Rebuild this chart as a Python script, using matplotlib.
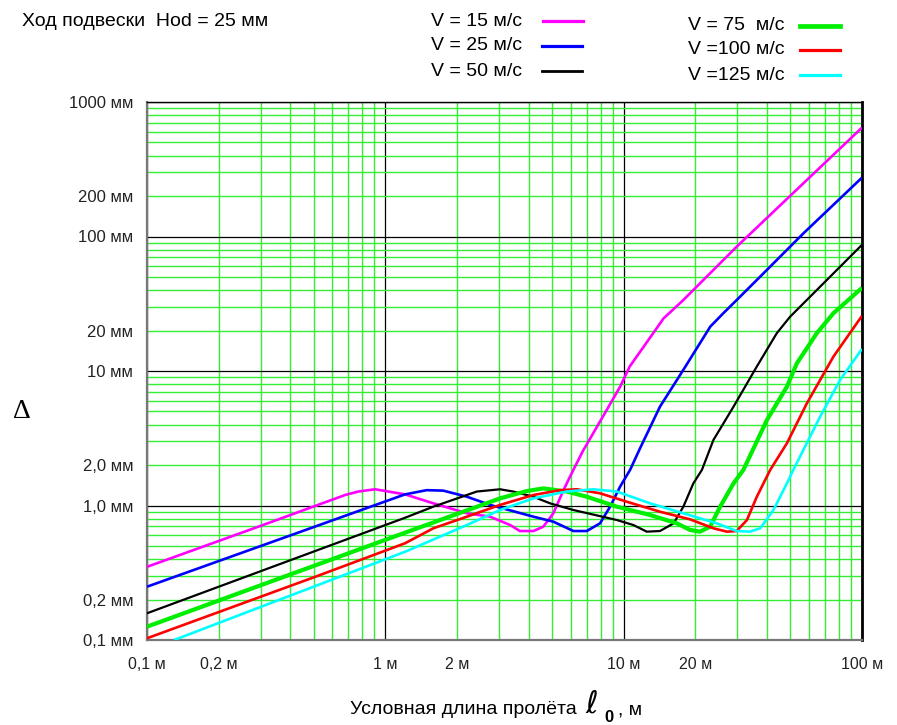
import matplotlib
matplotlib.use('Agg')
import matplotlib.pyplot as plt
from matplotlib.lines import Line2D
from matplotlib.ticker import LogLocator, FuncFormatter

plt.rcParams['font.family'] = ['Liberation Sans', 'DejaVu Sans']

# ---- data (span l0 in m, deflection in mm) ----
x_15 = [0.1, 0.3, 0.678, 0.77, 0.905, 1.21, 1.59, 2.2, 2.75, 3.34, 3.67, 4.18, 4.6, 5.07,
        5.59, 6.15, 6.75, 8.49, 9.66, 10.6, 13.3, 14.7, 17.8, 19.6, 21.6, 29.8, 100]
y_15 = [0.35, 0.706, 1.197, 1.27, 1.32, 1.21, 1.038, 0.875, 0.826, 0.716, 0.646, 0.646, 0.696, 0.875,
        1.30, 1.84, 2.55, 5.13, 7.64, 10.8, 19.1, 24.6, 33.7, 40.0, 47.5, 84.0, 645]

x_25 = [0.1, 1.21, 1.49, 1.75, 2.2, 2.75, 4.18, 5.07, 6.15, 7.0, 7.96, 8.77, 9.66, 10.64,
        11.7, 14.2, 17.8, 23.1, 26.2, 29.8, 36.2, 56.8, 100]
y_25 = [0.249, 1.21, 1.30, 1.29, 1.162, 1.01, 0.826, 0.758, 0.646, 0.646, 0.737, 0.98, 1.38, 1.84,
        2.65, 5.43, 10.2, 21.4, 26.9, 33.7, 47.5, 105.6, 274]

x_50 = [0.1, 1.21, 1.59, 2.42, 3.03, 3.44, 4.18, 4.91, 6.15, 9.36, 10.98, 12.5, 14.2, 16.2,
        17.8, 19.6, 21.3, 23.8, 28.9, 36.2, 43.9, 49.9, 60.6, 71.2, 100]
y_50 = [0.158, 0.811, 0.98, 1.27, 1.32, 1.27, 1.162, 1.038, 0.926, 0.780, 0.716, 0.639, 0.646, 0.737,
        0.98, 1.46, 1.84, 3.07, 5.43, 10.8, 19.1, 25.3, 35.7, 47.5, 86.7]

x_75 = [0.1, 1.21, 2.2, 3.03, 3.92, 4.6, 5.77, 7.0, 9.36, 12.9, 16.7, 19.0, 20.9, 23.05,
        25.4, 28.9, 31.8, 39.9, 48.4, 53.3, 64.6, 75.9, 100]
y_75 = [0.1256, 0.628, 0.92, 1.13, 1.28, 1.34, 1.27, 1.162, 0.98, 0.85, 0.737, 0.658, 0.639, 0.696,
        0.98, 1.46, 1.84, 4.32, 7.64, 11.4, 19.1, 26.9, 41.5]

x_100 = [0.1, 0.5, 1.21, 1.59, 2.2, 3.03, 4.18, 5.41, 6.36, 7.96, 10.3, 14.2, 19.0, 23.8,
         27.1, 29.8, 32.9, 36.2, 41.2, 48.4, 58.7, 75.9, 100]
y_100 = [0.103, 0.292, 0.524, 0.677, 0.826, 1.01, 1.197, 1.30, 1.32, 1.232, 1.067, 0.899, 0.789, 0.677,
         0.639, 0.646, 0.780, 1.162, 1.84, 2.90, 5.75, 12.8, 25.7]

x_125 = [0.13, 1.21, 2.2, 3.03, 4.18, 5.77, 7.46, 9.36, 12.9, 17.8, 24.6, 29.8, 33.9, 37.4,
         42.5, 48.4, 51.5, 66.7, 80.9, 100]
y_125 = [0.1, 0.453, 0.716, 0.926, 1.13, 1.27, 1.32, 1.27, 1.038, 0.875, 0.737, 0.646, 0.639, 0.677,
         0.926, 1.46, 1.84, 4.57, 8.57, 14.6]

series = [
    (x_15, y_15, '#ff00ff', 1.9, 'V = 15 м/с'),
    (x_25, y_25, '#0000ff', 1.9, 'V = 25 м/с'),
    (x_50, y_50, '#000000', 1.6, 'V = 50 м/с'),
    (x_75, y_75, '#00ee00', 3.0, 'V = 75  м/с'),
    (x_100, y_100, '#ff0000', 1.9, 'V =100 м/с'),
    (x_125, y_125, '#00ffff', 1.9, 'V =125 м/с'),
]

ylabels = {0.1: '0,1 мм', 0.2: '0,2 мм', 1: '1,0 мм', 2: '2,0 мм', 10: '10 мм',
           20: '20 мм', 100: '100 мм', 200: '200 мм', 1000: '1000 мм'}
xlabels = {0.1: '0,1 м', 0.2: '0,2 м', 1: '1 м', 2: '2 м', 10: '10 м', 20: '20 м', 100: '100 м'}

W, H = 897, 725
fig = plt.figure(figsize=(W / 100, H / 100), dpi=100)
ax = fig.add_axes([147 / W, 1 - 640 / H, 715 / W, 538 / H])
ax.set_xscale('log')
ax.set_yscale('log')
ax.set_xlim(0.1, 100)
ax.set_ylim(0.1, 1000)

for a in (ax.xaxis, ax.yaxis):
    a.set_major_locator(LogLocator(base=10, numticks=10))
    a.set_minor_locator(LogLocator(base=10, subs=range(2, 10), numticks=20))

fy = FuncFormatter(lambda v, p: ylabels.get(round(v, 6), ''))
fx = FuncFormatter(lambda v, p: xlabels.get(round(v, 6), ''))
ax.yaxis.set_major_formatter(fy)
ax.yaxis.set_minor_formatter(fy)
ax.xaxis.set_major_formatter(fx)
ax.xaxis.set_minor_formatter(fx)

ax.grid(which='minor', color='#33ee33', lw=1.0, zorder=0)
ax.grid(which='major', color='#000000', lw=0.9, zorder=1)
ax.set_axisbelow(True)
ax.tick_params(which='both', length=0, labelsize=12, colors='#222222')
ax.tick_params(axis='y', which='both', pad=10)
ax.tick_params(axis='x', which='both', pad=12, labelsize=11.5)

for s in ('left', 'bottom'):
    ax.spines[s].set_color('#777777')
    ax.spines[s].set_linewidth(1.6)
ax.spines['top'].set_linewidth(1.0)
ax.spines['right'].set_linewidth(2.0)

for xs, ys, c, lw, lab in series:
    ax.plot(xs, ys, color=c, lw=lw, solid_capstyle='butt', zorder=3)

# title and legend, drawn in figure pixels
fig.text(22 / W, 1 - 22 / H, 'Ход подвески  Hod = 25 мм', fontsize=14, va='center')
leg_pos = [(431, 21, 543), (431, 46, 542), (431, 71, 542),
           (688, 26, 800), (688, 50, 800), (688, 75, 800)]
for (xs, ys, c, lw, lab), (tx, ty, lx) in zip(series, leg_pos):
    fig.text(tx / W, 1 - ty / H, lab, fontsize=14, va='center')
    fig.add_artist(Line2D([lx / W, (lx + 40) / W], [1 - ty / H, 1 - ty / H],
                          color=c, lw=lw + 0.4, transform=fig.transFigure))

fig.text(22 / W, 1 - 412 / H, 'Δ', family='Liberation Serif', fontsize=20,
         ha='center', va='center')
fig.text(350 / W, 1 - 710 / H, 'Условная длина пролёта', fontsize=14, va='center')
fig.text(585 / W, 1 - 705 / H, r'$\ell$', fontsize=22, va='center')
fig.text(604 / W, 1 - 717 / H, '0', fontsize=12, fontweight='bold', va='center')
fig.text(618 / W, 1 - 710 / H, ', м', fontsize=14, va='center')

fig.savefig('out.png', dpi=100)
